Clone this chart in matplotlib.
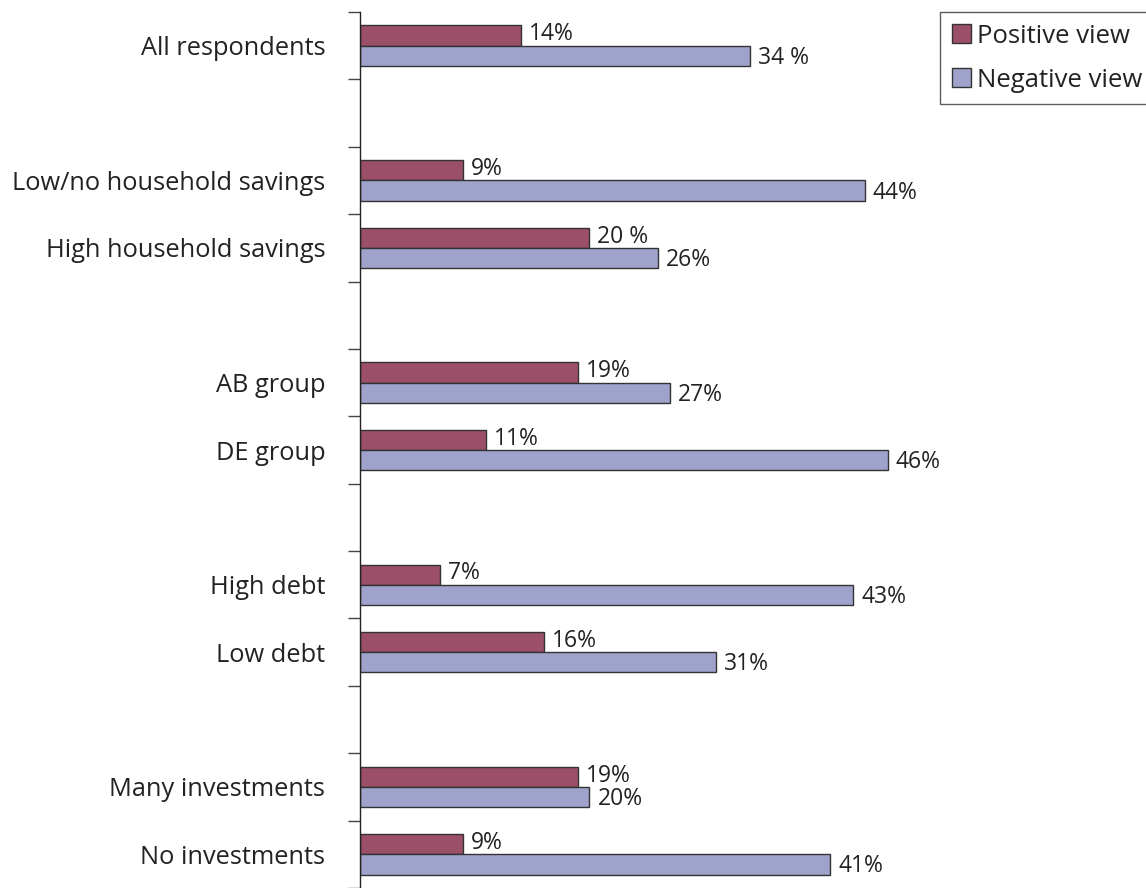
import matplotlib.pyplot as plt
import numpy as np

plt.rcParams['font.family'] = ['Open Sans', 'DejaVu Sans']

# rows in slot order; empty strings are spacer rows between groups
categories = ["All respondents", "", "Low/no household savings", "High household savings", "",
              "AB group", "DE group", "", "High debt", "Low debt", "",
              "Many investments", "No investments"]
positive = [14, None, 9, 20, None, 19, 11, None, 7, 16, None, 19, 9]
negative = [34, None, 44, 26, None, 27, 46, None, 43, 31, None, 20, 41]
pos_labels = ["14%", "", "9%", "20 %", "", "19%", "11%", "", "7%", "16%", "", "19%", "9%"]
neg_labels = ["34 %", "", "44%", "26%", "", "27%", "46%", "", "43%", "31%", "", "20%", "41%"]

pos_color = "#9b4f68"
neg_color = "#9fa3cb"
edge = "#333333"
text_color = "#222222"

fig = plt.figure(figsize=(11.46, 8.88), dpi=100)
ax = fig.add_axes([360 / 1146, 0.0, 780 / 1146, 876 / 888])

n = len(categories)
bar_h = 0.3
for i in range(n):
    if positive[i] is None:
        continue
    c = i + 0.5
    ax.barh(c - bar_h / 2, positive[i], height=bar_h, color=pos_color,
            edgecolor=edge, linewidth=1)
    ax.barh(c + bar_h / 2, negative[i], height=bar_h, color=neg_color,
            edgecolor=edge, linewidth=1)
    ax.text(positive[i] + 0.7, c + 0.01, pos_labels[i], va="bottom", ha="left",
            fontsize=16.5, color=text_color)
    ax.text(negative[i] + 0.7, c + bar_h / 2 + 0.03, neg_labels[i], va="center", ha="left",
            fontsize=16.5, color=text_color)

ax.set_xlim(0, 68)
ax.set_ylim(n, 0)

# category names sit at slot centres, tick marks at slot boundaries
ax.set_yticks(np.arange(n + 1))
ax.set_yticklabels([])
ax.set_yticks(np.arange(n) + 0.5, minor=True)
ax.set_yticklabels(categories, minor=True, fontsize=18.3, color=text_color)
ax.tick_params(axis="y", which="major", length=9, width=1, color="#444444")
ax.tick_params(axis="y", which="minor", length=0, pad=25)
ax.set_xticks([])

for side in ["top", "right", "bottom"]:
    ax.spines[side].set_visible(False)
ax.spines["left"].set_color("#222222")
ax.spines["left"].set_linewidth(1)

handles = [plt.Rectangle((0, 0), 1, 1, facecolor=pos_color, edgecolor=edge),
           plt.Rectangle((0, 0), 1, 1, facecolor=neg_color, edgecolor=edge)]
leg = fig.legend(handles, ["Positive view", "Negative view"], loc="upper left",
                 bbox_to_anchor=(940 / 1146, 1 - 12 / 888), frameon=True, fancybox=False,
                 fontsize=18.5, handlelength=0.75, handleheight=0.75, handletextpad=0.25,
                 borderpad=0.45, labelspacing=0.75, borderaxespad=0)
leg.get_frame().set_edgecolor("#333333")
leg.get_frame().set_linewidth(1)
for t in leg.get_texts():
    t.set_color(text_color)

fig.savefig("out.png", dpi=100)
